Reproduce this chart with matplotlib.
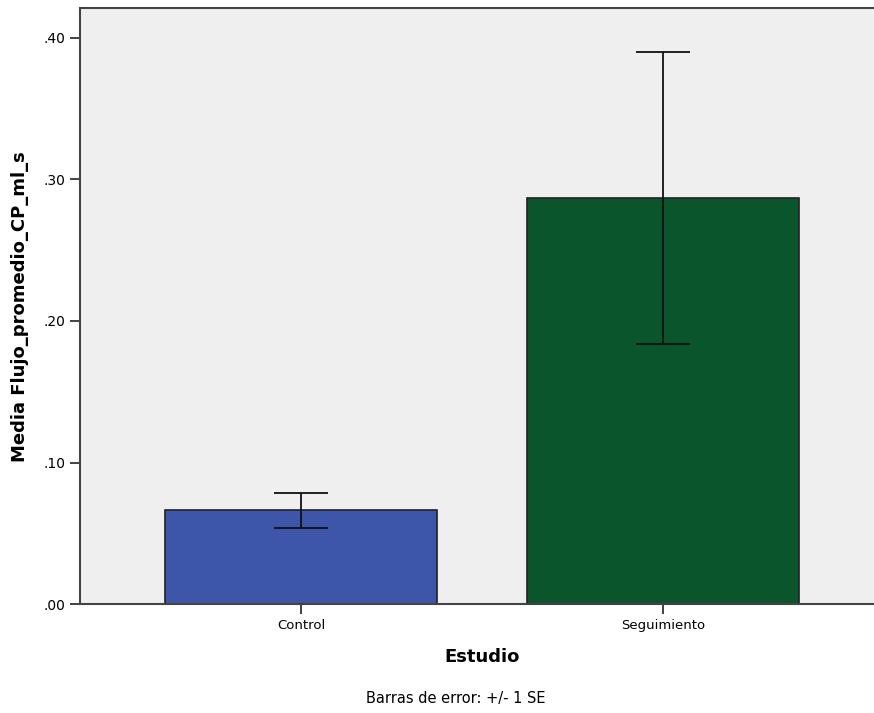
import matplotlib
matplotlib.use("Agg")
import matplotlib.pyplot as plt
from matplotlib.ticker import FuncFormatter

# mean flow per group and its standard error
grupos = ["Control", "Seguimiento"]
medias = [0.0664, 0.2866]
errores = [0.0122, 0.1031]
colores = ["#3E56A9", "#0B552D"]
yticks = [0.0, 0.1, 0.2, 0.3, 0.4]


def main():
    fig = plt.figure(figsize=(8.74, 7.13), dpi=100)
    ax = fig.add_axes([0.0915, 0.1525, 0.92, 0.8363])
    ax.set_facecolor("#EFEFEF")

    x = range(len(grupos))
    ax.bar(x, medias, width=0.75, color=colores, edgecolor="#222222",
           linewidth=1.2, zorder=2)
    ax.errorbar(x, medias, yerr=errores, fmt="none", ecolor="#111111",
                elinewidth=1.3, capsize=19.5, capthick=1.3, zorder=3)

    ax.set_xlim(-0.611, 1.611)
    ax.set_ylim(0, 0.421)
    ax.set_xticks(list(x))
    ax.set_xticklabels(grupos, fontsize=9.5)
    ax.set_yticks(yticks)
    ax.yaxis.set_major_formatter(FuncFormatter(lambda v, p: ("%.2f" % v)[1:]))
    ax.tick_params(axis="y", labelsize=10, length=7, width=1.3, color="#333333")
    ax.tick_params(axis="x", length=7, width=1.3, color="#333333")

    for s in ["left", "bottom", "top"]:
        ax.spines[s].set_color("#444444")
        ax.spines[s].set_linewidth(1.5)
    ax.spines["right"].set_visible(False)

    ax.set_ylabel("Media Flujo_promedio_CP_ml_s", fontsize=13, fontweight="bold",
                  labelpad=10)
    fig.text(0.551, 0.079, "Estudio", ha="center", va="center", fontsize=13,
             fontweight="bold")
    fig.text(0.521, 0.021, "Barras de error: +/- 1 SE", ha="center",
             va="center", fontsize=10.5)

    fig.savefig("out.png", dpi=100)


if __name__ == "__main__":
    main()
